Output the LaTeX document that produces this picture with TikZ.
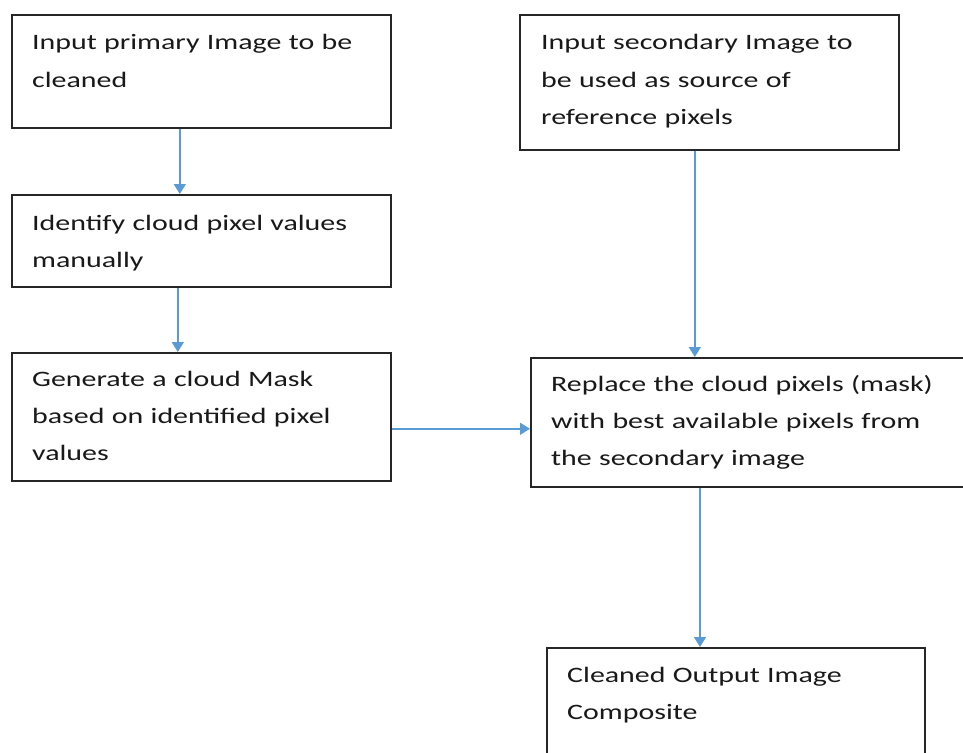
\documentclass[tikz,border=0pt]{standalone}
\usepackage{fontspec}
\setmainfont{Carlito}[FakeStretch=1.36]
\usetikzlibrary{arrows.meta}
\definecolor{flowblue}{RGB}{91,155,213}
\tikzset{
  box/.style={draw=black!85, line width=1.6pt, fill=white, inner sep=0pt, anchor=north west},
  txt/.style={anchor=base west, inner sep=0pt, align=left, text width=#1,
              font=\fontsize{22}{37}\selectfont, text=black!90},
  arr/.style={draw=flowblue, line width=1.5pt, -{Triangle[length=10pt,width=12pt]}}
}
\begin{document}
\begin{tikzpicture}[x=1pt,y=-1pt]
\clip (0,0) rectangle (963,752);
\useasboundingbox (0,0) rectangle (963,752);

% left column
\node[box, minimum width=379pt, minimum height=113pt] (b1) at (11,14) {};
\node[txt=358pt] (t1) at ([xshift=21pt,yshift=-36pt]b1.north west) {Input primary Image to be\\cleaned};

\node[box, minimum width=379pt, minimum height=92pt] (b2) at (11,194) {};
\node[txt=358pt] (t2) at ([xshift=21pt,yshift=-36pt]b2.north west) {Identify cloud pixel values\\manually};

\node[box, minimum width=379pt, minimum height=128pt] (b3) at (11,352) {};
\node[txt=358pt] (t3) at ([xshift=21pt,yshift=-34pt]b3.north west) {Generate a cloud Mask\\based on identified pixel\\values};

% right column
\node[box, minimum width=379pt, minimum height=135pt] (b4) at (519,14) {};
\node[txt=358pt] (t4) at ([xshift=22pt,yshift=-36pt]b4.north west) {Input secondary Image to\\be used as source of\\reference pixels};

\node[box, minimum width=450pt, minimum height=129pt] (b5) at (530,357) {};
\node[txt=425pt] (t5) at ([xshift=21pt,yshift=-34pt]b5.north west) {Replace the cloud pixels (mask)\\with best available pixels from\\the secondary image};

\node[box, minimum width=378pt, minimum height=120pt] (b6) at (546,647) {};
\node[txt=358pt] (t6) at ([xshift=21pt,yshift=-35pt]b6.north west) {Cleaned Output Image\\Composite};

% connectors
\draw[arr] ([xshift=-21.5pt]b1.south) -- ([xshift=-21.5pt]b2.north);
\draw[arr] ([xshift=-23.5pt]b2.south) -- ([xshift=-23.5pt]b3.north);
\draw[arr] ([xshift=-14.5pt]b4.south) -- ([xshift=-14.5pt]b4.south |- b5.north);
\draw[arr] ([yshift=-12pt]b3.east) -- ([yshift=-12pt]b3.east -| b5.west);
\draw[arr] ([xshift=700pt-530pt]b5.south west) -- ([xshift=700pt-530pt]b5.south west |- b6.north);
\end{tikzpicture}
\end{document}
